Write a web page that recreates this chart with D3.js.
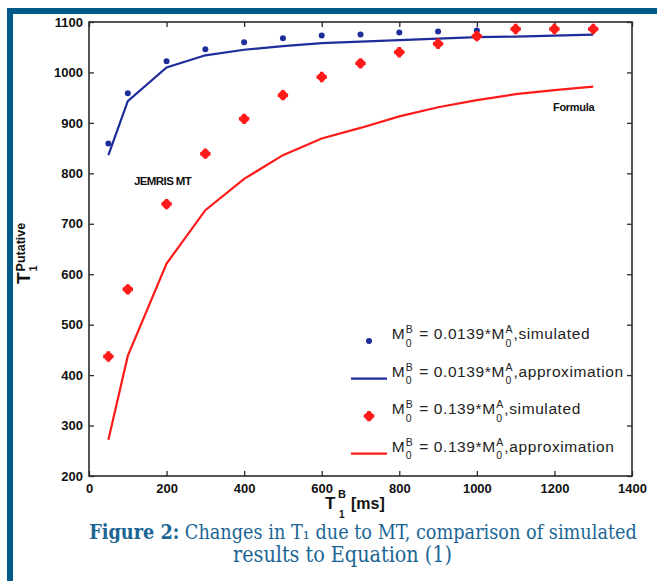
<!DOCTYPE html>
<html>
<head>
<meta charset="utf-8">
<script src="https://cdn.jsdelivr.net/npm/d3@7"></script>
<style>
  body { margin: 0; background: #fff; }
  text { white-space: pre; }
</style>
</head>
<body>
<div id="chart"></div>
<script>
// T1^B values (ms) where simulation / approximation were evaluated
const t1b = [50, 100, 200, 300, 400, 500, 600, 700, 800, 900, 1000, 1100, 1200, 1300];

// M0B = 0.0139*M0A
const blueSimulated = [859, 959, 1022, 1046, 1060, 1068, 1073, 1075, 1079, 1081, 1083, 1085, 1086, 1086];
const blueApprox = [836, 943, 1010, 1034, 1045, 1052, 1058, 1061, 1064, 1067, 1070, 1071, 1073, 1075];

// M0B = 0.139*M0A
const redSimulated = [437, 570, 739, 839, 908, 955, 991, 1018, 1040, 1057, 1072, 1086, 1086, 1086];
const redApprox = [272, 438, 621, 727, 789, 836, 869, 890, 913, 931, 945, 957, 965, 972];

const xTicks = [0, 200, 400, 600, 800, 1000, 1200, 1400];
const yTicks = [200, 300, 400, 500, 600, 700, 800, 900, 1000, 1100];

const legendItems = [
  { coef: '0.0139', label: 'simulated', color: '#1f2d9b', kind: 'dot' },
  { coef: '0.0139', label: 'approximation', color: '#1f2d9b', kind: 'line' },
  { coef: '0.139', label: 'simulated', color: '#ff1a1a', kind: 'star' },
  { coef: '0.139', label: 'approximation', color: '#ff1a1a', kind: 'line' }
];

const W = 657, H = 581;
const plot = { left: 89, right: 632, top: 22, bottom: 476 };
const frameColor = '#005b88';
const captionColor = '#1b6594';
const blue = '#1f2d9b', red = '#ff1a1a';

const svg = d3.select('#chart').append('svg')
  .attr('width', W).attr('height', H)
  .style('font-family', "'Liberation Sans', Arial, sans-serif");

// page frame (top and left bands)
svg.append('rect').attr('x', 7).attr('y', 8).attr('width', W - 7).attr('height', 6).attr('fill', frameColor);
svg.append('rect').attr('x', 7).attr('y', 8).attr('width', 6).attr('height', H - 8).attr('fill', frameColor);

let xScale = d3.scaleLinear().domain([0, 1400]).range([plot.left, plot.right]);
let yScale = d3.scaleLinear().domain([200, 1100]).range([plot.bottom, plot.top]);

function styleAxis(g) {
  g.select('.domain').remove();
  g.selectAll('.tick line').attr('stroke', '#2b2b2b').attr('stroke-width', 1.3);
  g.selectAll('.tick text')
    .attr('fill', '#111')
    .attr('font-size', 13)
    .attr('font-weight', 'bold')
    .attr('font-family', "'Liberation Sans', Arial, sans-serif");
}

svg.append('g')
  .attr('transform', 'translate(0,' + plot.bottom + ')')
  .call(d3.axisBottom(xScale).tickValues(xTicks).tickSizeInner(-5).tickSizeOuter(0).tickPadding(8)
    .tickFormat(d3.format('d')))
  .call(styleAxis);

svg.append('g')
  .attr('transform', 'translate(0,' + plot.top + ')')
  .call(d3.axisTop(xScale).tickValues(xTicks).tickSizeInner(-5).tickSizeOuter(0).tickFormat(''))
  .call(styleAxis);

svg.append('g')
  .attr('transform', 'translate(' + plot.left + ',0)')
  .call(d3.axisLeft(yScale).tickValues(yTicks).tickSizeInner(-5).tickSizeOuter(0).tickPadding(6)
    .tickFormat(d3.format('d')))
  .call(styleAxis);

svg.append('g')
  .attr('transform', 'translate(' + plot.right + ',0)')
  .call(d3.axisRight(yScale).tickValues(yTicks).tickSizeInner(-5).tickSizeOuter(0).tickFormat(''))
  .call(styleAxis);

// axis box
svg.append('rect')
  .attr('x', plot.left).attr('y', plot.top)
  .attr('width', plot.right - plot.left).attr('height', plot.bottom - plot.top)
  .attr('fill', 'none').attr('stroke', '#2b2b2b').attr('stroke-width', 1.6);

// lines
let line = d3.line().x((d, i) => xScale(t1b[i])).y((d) => yScale(d));

svg.append('path').datum(blueApprox)
  .attr('fill', 'none').attr('stroke', blue).attr('stroke-width', 2.2)
  .attr('d', line);

svg.append('path').datum(redApprox)
  .attr('fill', 'none').attr('stroke', red).attr('stroke-width', 2.2)
  .attr('d', line);

function drawStar(g, x, y) {
  g.append('circle').attr('cx', x).attr('cy', y).attr('r', 4.3).attr('fill', red);
  g.append('path')
    .attr('transform', 'translate(' + x + ',' + y + ')')
    .attr('d', d3.symbol(d3.symbolCross, 60)())
    .attr('fill', red);
}

// simulated points
svg.append('g').selectAll('circle')
  .data(blueSimulated)
  .join('circle')
  .attr('cx', (d, i) => xScale(t1b[i]))
  .attr('cy', (d) => yScale(d))
  .attr('r', 3)
  .attr('fill', blue);

let stars = svg.append('g');
redSimulated.forEach((d, i) => drawStar(stars, xScale(t1b[i]), yScale(d)));

// annotations
svg.append('text').attr('x', 134).attr('y', 185)
  .attr('font-size', 11.5).attr('font-weight', 'bold').attr('letter-spacing', -0.6)
  .attr('fill', '#111').text('JEMRIS MT');

svg.append('text').attr('x', 553).attr('y', 111)
  .attr('font-size', 11).attr('font-weight', 'bold').attr('letter-spacing', -0.3)
  .attr('fill', '#111').text('Formula');

// legend: M_0^B = coef*M_0^A,label
const legendSize = 15.5;
function subSup(g, x, y, sub, sup) {
  let a = g.append('text').attr('x', x).attr('y', y + 7.5).attr('font-size', 10.5).text(sub);
  let b = g.append('text').attr('x', x).attr('y', y - 6.3).attr('font-size', 10.5).text(sup);
  return Math.max(a.node().getComputedTextLength(), b.node().getComputedTextLength());
}

let legend = svg.append('g').attr('fill', '#222').attr('letter-spacing', 0.6);
legendItems.forEach((item, i) => {
  let y = 339.3 + i * 37.5;
  let x = 391.7;
  let t = legend.append('text').attr('x', x).attr('y', y).attr('font-size', legendSize).text('M');
  x += t.node().getComputedTextLength() + 0.5;
  x += subSup(legend, x, y, '0', 'B') + 1;
  t = legend.append('text').attr('x', x).attr('y', y).attr('font-size', legendSize).text(' = ' + item.coef + '*M');
  x += t.node().getComputedTextLength() + 0.5;
  x += subSup(legend, x, y, '0', 'A') + 0.5;
  legend.append('text').attr('x', x).attr('y', y).attr('font-size', legendSize).text(',' + item.label);

  let my = y + 1.8;
  if (item.kind === 'dot') {
    legend.append('circle').attr('cx', 369).attr('cy', my).attr('r', 3).attr('fill', item.color);
  } else if (item.kind === 'star') {
    drawStar(legend, 369, my);
  } else {
    legend.append('line').attr('x1', 351).attr('x2', 387).attr('y1', my).attr('y2', my)
      .attr('stroke', item.color).attr('stroke-width', 2.2);
  }
});

// x axis title: T_1^B [ms]
let xt = svg.append('g').attr('fill', '#111').attr('font-weight', 'bold');
xt.append('text').attr('x', 325).attr('y', 509).attr('font-size', 17).text('T');
xt.append('text').attr('x', 338).attr('y', 498).attr('font-size', 11).text('B');
xt.append('text').attr('x', 339).attr('y', 517.5).attr('font-size', 10).text('1');
xt.append('text').attr('x', 351).attr('y', 509).attr('font-size', 16).text('[ms]');

// y axis title: T_1^Putative (rotated)
let yt = svg.append('g').attr('fill', '#111').attr('font-weight', 'bold')
  .attr('transform', 'translate(30,284) rotate(-90)');
let tNode = yt.append('text').attr('x', 0).attr('y', 0).attr('font-size', 19).text('T');
let tw = tNode.node().getComputedTextLength();
yt.append('text').attr('x', tw + 1).attr('y', -5).attr('font-size', 12.5).text('Putative');
yt.append('text').attr('x', tw + 1).attr('y', 7).attr('font-size', 11).text('1');

// caption
const captionFont = "'DejaVu Serif Condensed', 'DejaVu Serif', serif";
function fitLine(text, cx, targetWidth) {
  let bb = text.node().getBBox();
  let size = 20 * targetWidth / bb.width;
  text.attr('font-size', size).attr('x', cx);
}
let cap1 = svg.append('text').attr('text-anchor', 'middle').attr('y', 539)
  .attr('font-family', captionFont).attr('font-size', 20).attr('fill', captionColor);
cap1.append('tspan').attr('font-weight', 'bold').text('Figure 2:');
cap1.append('tspan').text(' Changes in T\u2081 due to MT, comparison of simulated');
fitLine(cap1, 363, 548);

let cap2 = svg.append('text').attr('text-anchor', 'middle').attr('y', 562)
  .attr('font-family', captionFont).attr('font-size', 20).attr('fill', captionColor)
  .text('results to Equation (1)');
fitLine(cap2, 342.5, 219);
</script>
</body>
</html>
